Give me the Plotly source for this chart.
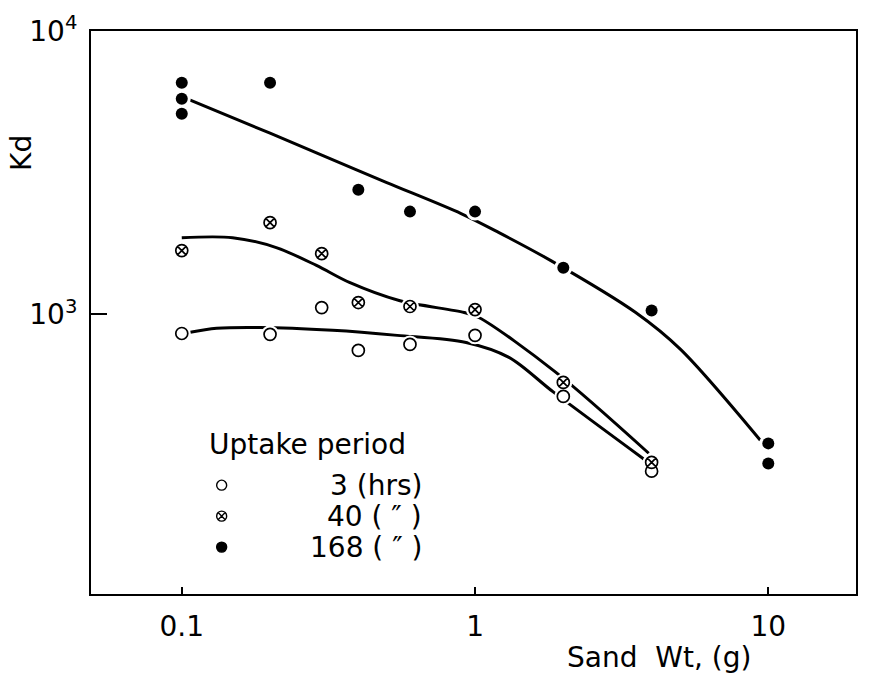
import plotly.graph_objects as go

# ---- data ----
# 3 hrs uptake
x_3 = [0.1, 0.2, 0.3, 0.4, 0.6, 1.0, 2.0, 4.0]
y_3 = [857, 851, 1058, 747, 784, 844, 514, 280]
# 40 hrs uptake
x_40 = [0.1, 0.2, 0.3, 0.4, 0.6, 1.0, 2.0, 4.0]
y_40 = [1680, 2108, 1640, 1102, 1067, 1041, 576, 301]
# 168 hrs uptake
x_168 = [0.1, 0.1, 0.1, 0.2, 0.4, 0.6, 1.0, 2.0, 4.0, 10.0, 10.0]
y_168 = [6563, 5767, 5105, 6563, 2756, 2306, 2306, 1463, 1033, 351, 298]

# hand-drawn fit curves
cx_3 = [0.1057, 0.1315, 0.184, 0.327, 0.543, 0.932, 1.305, 1.857, 3.81]
cy_3 = [864, 894, 900, 879, 844, 797, 706, 531, 306]
cx_40 = [0.1, 0.149, 0.21, 0.288, 0.373, 0.551, 0.918, 1.03, 1.887, 3.91]
cy_40 = [1866, 1866, 1722, 1489, 1297, 1120, 1016, 976, 625, 324]
cx_168 = [0.1064, 0.2, 0.288, 0.5, 0.896, 1.207, 1.814, 3.53, 5.02, 9.39]
cy_168 = [5715, 4360, 3715, 2920, 2270, 1944, 1549, 1016, 753, 360]

x_ticks = [0.1, 1, 10]
x_ticktext = ["0.1", "1", "10"]
y_ticks = [1000, 10000]
y_ticktext = ["10<sup>3</sup>", "10<sup>4</sup>"]

legend_title = "Uptake period"
legend_labels = ["3 (hrs)", "40 ( \u2033 )", "168 ( \u2033 )"]

FONT = "DejaVu Sans"
BLACK = "black"

fig = go.Figure()

# curves
for cx, cy in [(cx_3, cy_3), (cx_40, cy_40), (cx_168, cy_168)]:
    fig.add_trace(go.Scatter(x=cx, y=cy, mode="lines",
                             line=dict(color=BLACK, width=3, shape="spline", smoothing=0.9),
                             hoverinfo="skip", showlegend=False))

# white halos so curves break around the markers
for xs, ys in [(x_3, y_3), (x_40, y_40), (x_168, y_168)]:
    fig.add_trace(go.Scatter(x=xs, y=ys, mode="markers",
                             marker=dict(color="white", size=18, line=dict(width=0)),
                             hoverinfo="skip", showlegend=False))

# data markers
fig.add_trace(go.Scatter(x=x_3, y=y_3, mode="markers", name=legend_labels[0],
                         marker=dict(symbol="circle", size=12, color="white",
                                     line=dict(color=BLACK, width=1.7)),
                         showlegend=False))
fig.add_trace(go.Scatter(x=x_40, y=y_40, mode="markers", name=legend_labels[1],
                         marker=dict(symbol="circle-x", size=12, color="white",
                                     line=dict(color=BLACK, width=1.7)),
                         showlegend=False))
fig.add_trace(go.Scatter(x=x_168, y=y_168, mode="markers", name=legend_labels[2],
                         marker=dict(symbol="circle", size=12, color=BLACK,
                                     line=dict(color=BLACK, width=0)),
                         showlegend=False))

# legend symbols on a hidden overlay axis (0..1 coordinates of the plot area)
leg_sym_x = [0.1708, 0.1708, 0.1708]
leg_sym_y = [0.1933, 0.1383, 0.0833]
leg_symbols = ["circle", "circle-x", "circle"]
leg_fill = ["white", "white", BLACK]
for i in range(3):
    fig.add_trace(go.Scatter(x=[leg_sym_x[i]], y=[leg_sym_y[i]], mode="markers",
                             xaxis="x2", yaxis="y2",
                             marker=dict(symbol=leg_symbols[i], size=10, color=leg_fill[i],
                                         line=dict(color=BLACK, width=1.4)),
                             hoverinfo="skip", showlegend=False))

axis_common = dict(showgrid=False, zeroline=False, showline=True, linecolor=BLACK,
                   linewidth=2, mirror=True, ticks="inside", tickcolor=BLACK,
                   tickwidth=1.5, tickfont=dict(family=FONT, size=28, color=BLACK))

fig.update_layout(
    width=869, height=675,
    margin=dict(l=91, r=11, t=30, b=81),
    paper_bgcolor="white", plot_bgcolor="rgba(0,0,0,0)",
    showlegend=False,
    xaxis=dict(type="log", range=[-1.3095, 1.299], tickvals=x_ticks, ticktext=x_ticktext,
               ticklen=7, ticklabelstandoff=6, **axis_common),
    yaxis=dict(type="log", range=[2.014, 4.0], tickvals=y_ticks, ticktext=y_ticktext,
               ticklen=16, ticklabelstandoff=6, **axis_common),
    xaxis2=dict(domain=[0, 1], range=[0, 1], anchor="y2", visible=False, fixedrange=True),
    yaxis2=dict(domain=[0, 1], range=[0, 1], anchor="x2", visible=False, fixedrange=True),
)

ann_font = dict(family=FONT, size=28, color=BLACK)
leg_font = dict(family=FONT, size=28, color=BLACK)
annotations = [
    dict(text="Kd", x=-0.09, y=0.7837, xref="paper", yref="paper", textangle=-90,
         showarrow=False, font=ann_font, xanchor="center", yanchor="middle"),
    dict(text="Sand  Wt, (g)", x=0.742, y=-0.112, xref="paper", yref="paper",
         showarrow=False, font=ann_font, xanchor="center", yanchor="middle"),
    dict(text=legend_title, x=0.283, y=0.266, xref="paper", yref="paper",
         showarrow=False, font=leg_font, xanchor="center", yanchor="middle"),
]
for i, lab in enumerate(legend_labels):
    annotations.append(dict(text=lab, x=0.4355, y=leg_sym_y[i], xref="paper", yref="paper",
                            showarrow=False, font=leg_font, xanchor="right", yanchor="middle"))
fig.update_layout(annotations=annotations)

fig.write_html("out.html")
